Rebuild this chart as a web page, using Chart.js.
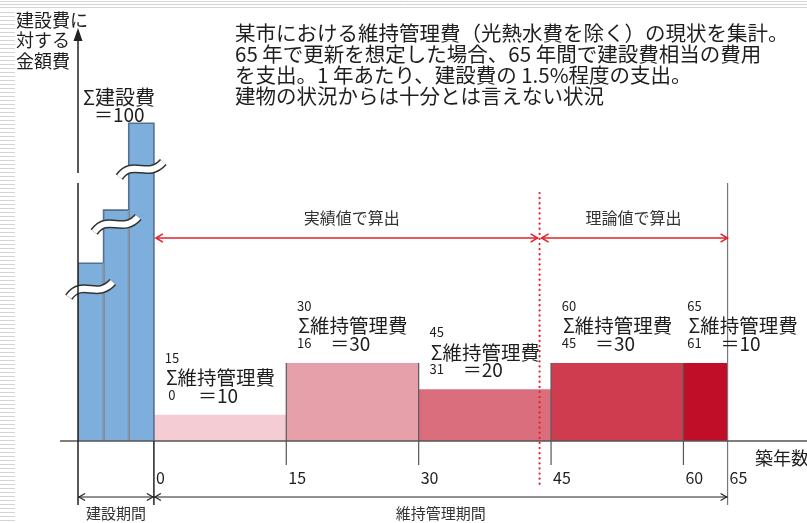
<!DOCTYPE html>
<html><head><meta charset="utf-8">
<script src="https://cdn.jsdelivr.net/npm/chart.js@4.4.0/dist/chart.umd.min.js"></script>
<style>html,body{margin:0;padding:0;background:#fff;overflow:hidden}#wrap{position:relative;width:807px;height:523px}</style>
</head><body><div id="wrap"><canvas id="c" width="807" height="523"></canvas></div>
<script>
// ---- data (years on x, annual cost relative units on y) ----
const constructionBounds = [-8.6, -5.7, -2.85, 0];
const constructionHeights = [4.56, 5.92, 8.15];
const breakLevels = [3.87, 5.54, 6.95];
const maintBounds = [0, 15, 30, 45, 60, 65];
const maintHeights = [0.67, 2.0, 1.33, 2.0, 2.0];
const maintSums = [10, 30, 20, 30, 10];
const maintFrom = ['0', '16', '31', '45', '61'];
const maintTo = ['15', '30', '45', '60', '65'];
const maintColors = ['#F3CDD3', '#E6A0A9', '#DB6E7D', '#D03C4F', '#C10E28'];
const xTickValues = [0, 15, 30, 45, 60, 65];
const xTickLabels = ['0', '15', '30', '45', '60', '65'];
const splitYear = 43.7;
const constructionTotal = 100;
const titleLines = [
  '某市における維持管理費（光熱水費を除く）の現状を集計。',
  '65 年で更新を想定した場合、65 年間で建設費相当の費用',
  'を支出。1 年あたり、建設費の 1.5%程度の支出。',
  '建物の状況からは十分とは言えない状況'
];
const yAxisTitle = ['建設費に', '対する', '金額費'];
const xAxisTitle = '築年数';
const periodLabels = ['建設期間', '維持管理期間'];
const methodLabels = ['実績値で算出', '理論値で算出'];

const FONT = '"Noto Sans CJK JP", "Noto Sans", sans-serif';

const datasets = [];
for (let i = 0; i < constructionHeights.length; i++) {
  const a = constructionBounds[i], b = constructionBounds[i + 1], h = constructionHeights[i];
  datasets.push({
    data: [{x: a, y: 0}, {x: a, y: h}, {x: b, y: h}, {x: b, y: 0}],
    showLine: true, fill: 'origin', backgroundColor: '#7EAEDC',
    borderColor: '#54708F', borderWidth: 1.6, pointRadius: 0, tension: 0
  });
}
for (let i = 0; i < maintHeights.length; i++) {
  const a = maintBounds[i], b = maintBounds[i + 1], h = maintHeights[i];
  datasets.push({
    data: [{x: a, y: h}, {x: b, y: h}],
    showLine: true, fill: 'origin', backgroundColor: maintColors[i],
    borderColor: maintColors[i], borderWidth: 0, pointRadius: 0
  });
}

function arrowHead(ctx, x, y, dir, size) {
  ctx.beginPath();
  ctx.moveTo(x - dir * size, y - size * 0.6);
  ctx.lineTo(x, y);
  ctx.lineTo(x - dir * size, y + size * 0.6);
  ctx.stroke();
}
function line(ctx, x1, y1, x2, y2) {
  ctx.beginPath(); ctx.moveTo(x1, y1); ctx.lineTo(x2, y2); ctx.stroke();
}

const decor = {
  id: 'decor',
  beforeDraw(chart) {
    const ctx = chart.ctx;
    ctx.save();
    ctx.fillStyle = '#fff';
    ctx.fillRect(0, 0, chart.width, chart.height);
    // slide decoration stripes
    ctx.strokeStyle = '#d4d4d4'; ctx.lineWidth = 1;
    for (let y = 1.5; y < 9; y += 3) line(ctx, 0, y, chart.width, y);
    for (let y = 12.5; y < chart.height; y += 4) line(ctx, 0, y, 15, y);
    ctx.restore();
  },
  afterDatasetsDraw(chart) {
    const ctx = chart.ctx, xs = chart.scales.x, ys = chart.scales.y;
    const X = v => xs.getPixelForValue(v), Y = v => ys.getPixelForValue(v);
    const base = Y(0);
    ctx.save();
    // construction bar dividers
    ctx.strokeStyle = '#8894a3'; ctx.lineWidth = 2;
    for (let i = 1; i < constructionBounds.length - 1; i++) {
      line(ctx, X(constructionBounds[i]), Y(constructionHeights[i - 1]), X(constructionBounds[i]), base);
    }
    // break marks
    for (let i = 0; i < breakLevels.length; i++) {
      const cx = (X(constructionBounds[i]) + X(constructionBounds[i + 1])) / 2;
      const cy = Y(breakLevels[i]);
      const draw = () => {
        ctx.beginPath();
        ctx.moveTo(cx - 22, cy + 7);
        ctx.bezierCurveTo(cx - 8, cy - 12, cx + 6, cy + 10, cx + 22, cy - 8);
        ctx.stroke();
      };
      ctx.lineCap = 'butt';
      ctx.strokeStyle = '#333'; ctx.lineWidth = 9; draw();
      ctx.strokeStyle = '#fff'; ctx.lineWidth = 6; draw();
    }
    // maintenance boundaries
    ctx.strokeStyle = '#555'; ctx.lineWidth = 1.2;
    for (let i = 1; i < maintBounds.length - 1; i++) {
      const top = Math.max(maintHeights[i - 1], maintHeights[i]);
      line(ctx, X(maintBounds[i]), Y(top), X(maintBounds[i]), base + 24);
    }
    // end of life line
    ctx.strokeStyle = '#777';
    line(ctx, X(65), 183, X(65), base + 64);
    // baseline
    ctx.strokeStyle = '#555'; ctx.lineWidth = 1.5;
    line(ctx, 60, base, chart.width, base);
    // y axis
    ctx.strokeStyle = '#222'; ctx.lineWidth = 1.5;
    const ax = X(constructionBounds[0]);
    line(ctx, ax, 36, ax, 173);
    line(ctx, ax, 183, ax, base + 64);
    ctx.fillStyle = '#222';
    ctx.beginPath(); ctx.moveTo(ax, 28); ctx.lineTo(ax - 4.5, 41); ctx.lineTo(ax + 4.5, 41); ctx.closePath(); ctx.fill();
    // x=0 line
    line(ctx, X(0), base, X(0), base + 64);
    // split dotted line
    ctx.strokeStyle = '#E0202A'; ctx.lineWidth = 2.2; ctx.lineCap = 'round';
    ctx.setLineDash([0.1, 5]);
    line(ctx, X(splitYear), 193, X(splitYear), 486);
    ctx.setLineDash([]);
    ctx.lineCap = 'butt';
    // red arrows
    const ry = 238;
    ctx.strokeStyle = '#E0202A'; ctx.lineWidth = 1.5;
    line(ctx, X(0) + 2, ry, X(splitYear) - 2, ry);
    line(ctx, X(splitYear) + 2, ry, X(65), ry);
    arrowHead(ctx, X(0) + 2, ry, -1, 7);
    arrowHead(ctx, X(splitYear) - 2, ry, 1, 7);
    arrowHead(ctx, X(splitYear) + 2, ry, -1, 7);
    arrowHead(ctx, X(65), ry, 1, 7);
    // period arrows
    const py = 497;
    ctx.strokeStyle = '#222'; ctx.lineWidth = 1.2;
    line(ctx, ax, py, X(0), py);
    line(ctx, X(0), py, X(65), py);
    arrowHead(ctx, ax + 1, py, -1, 6);
    arrowHead(ctx, X(0) - 1, py, 1, 6);
    arrowHead(ctx, X(0) + 1, py, -1, 6);
    arrowHead(ctx, X(65) - 1, py, 1, 6);

    // ---- texts ----
    ctx.fillStyle = '#1e1e1e';
    ctx.textBaseline = 'middle'; ctx.textAlign = 'left';
    ctx.font = '20.5px ' + FONT;
    titleLines.forEach((t, i) => ctx.fillText(t, 235, 33 + i * 21));
    ctx.font = '18px ' + FONT;
    yAxisTitle.forEach((t, i) => ctx.fillText(t, 16, 20 + i * 20.5));
    // construction total
    ctx.font = '20px ' + FONT;
    ctx.fillText('Σ建設費', 83, 97);
    ctx.font = '19px ' + FONT;
    ctx.fillText('＝' + constructionTotal, 94, 115);
    // maintenance labels
    for (let i = 0; i < maintHeights.length; i++) {
      const sx = X(maintBounds[i]) + (i === maintHeights.length - 1 ? 5 : 12);
      const sy = Y(maintHeights[i]) - 37;
      ctx.textAlign = 'left';
      ctx.font = '19.5px ' + FONT;
      ctx.fillText('Σ維持管理費', sx, sy);
      ctx.font = '19px ' + FONT;
      ctx.fillText('＝' + maintSums[i], sx + 32, sy + 18);
      ctx.font = '13px ' + FONT;
      ctx.textAlign = 'center';
      ctx.fillText(maintTo[i], sx + 6, sy - 20);
      ctx.fillText(maintFrom[i], sx + 6, sy + 17);
    }
    // x tick labels
    ctx.font = '16px ' + FONT; ctx.textAlign = 'left';
    xTickValues.forEach((v, i) => ctx.fillText(xTickLabels[i], X(v) + 2, 478));
    // x axis title
    ctx.font = '18px ' + FONT;
    ctx.fillText(xAxisTitle, 755, 458);
    // method labels
    ctx.font = '16px ' + FONT; ctx.textAlign = 'center'; ctx.fillStyle = '#333';
    ctx.fillText(methodLabels[0], (X(0) + X(splitYear)) / 2 + 5, 218);
    ctx.fillText(methodLabels[1], (X(splitYear) + X(65)) / 2, 218);
    // period labels
    ctx.font = '15px ' + FONT;
    ctx.fillText(periodLabels[0], (ax + X(0)) / 2, 513);
    ctx.fillText(periodLabels[1], (X(0) + X(65)) / 2, 513);
    ctx.restore();
  }
};

new Chart(document.getElementById('c'), {
  type: 'scatter',
  data: { datasets },
  options: {
    responsive: false, devicePixelRatio: 1, animation: false,
    layout: { padding: { left: 78, right: 0, top: 30, bottom: 82 } },
    scales: {
      x: { type: 'linear', min: -8.6, max: 74, display: false },
      y: { type: 'linear', min: 0, max: 10.54, display: false }
    },
    plugins: { legend: { display: false }, tooltip: { enabled: false } },
    elements: { line: { tension: 0 } }
  },
  plugins: [decor]
});
</script></body></html>
